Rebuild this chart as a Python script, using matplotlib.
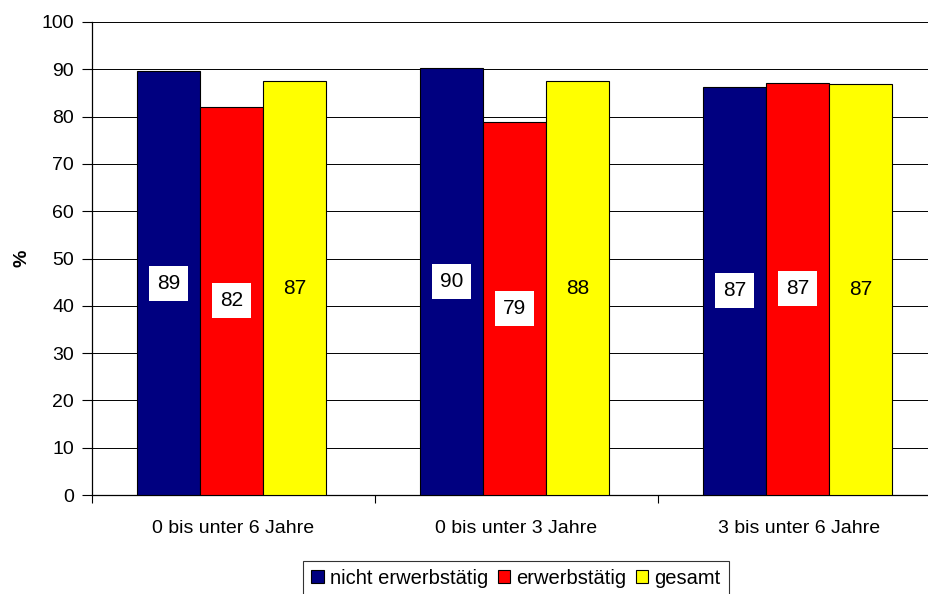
import numpy as np
import matplotlib.pyplot as plt

plt.rcParams['font.family'] = ['Liberation Sans', 'DejaVu Sans']

categories = ['0 bis unter 6 Jahre', '0 bis unter 3 Jahre', '3 bis unter 6 Jahre']
series = ['nicht erwerbstätig', 'erwerbstätig', 'gesamt']
nicht_erwerbstaetig = [89.6, 90.3, 86.3]
erwerbstaetig = [82.1, 78.9, 87.2]
gesamt = [87.5, 87.5, 86.8]
labels_nicht = ['89', '90', '87']
labels_erw = ['82', '79', '87']
labels_ges = ['87', '88', '87']

colors = ['#000080', '#ff0000', '#ffff00']
values = [nicht_erwerbstaetig, erwerbstaetig, gesamt]
labels = [labels_nicht, labels_erw, labels_ges]

fig = plt.figure(figsize=(9.29, 5.94), dpi=100)
ax = fig.add_axes([92 / 929, 1 - 495 / 594, 849 / 929, 473 / 594])

x = np.arange(len(categories))
w = 0.223
for i, (vals, labs) in enumerate(zip(values, labels)):
    pos = x + (i - 1) * w - 0.006
    ax.bar(pos, vals, width=w, color=colors[i], edgecolor='black',
           linewidth=0.8, label=series[i], zorder=3)
    for p, v, t in zip(pos, vals, labs):
        bbox = None
        if i < 2:
            bbox = dict(boxstyle='square,pad=0.38', facecolor='white',
                        edgecolor='none')
        ax.text(p, v / 2, t, ha='center', va='center', fontsize=15,
                color='black', bbox=bbox, zorder=4)

ax.set_xlim(-0.5, 2.5)
ax.set_ylim(0, 100)
ax.set_yticks(range(0, 101, 10))
ax.set_xticks([-0.5, 0.5, 1.5, 2.5])
ax.set_xticklabels([])
ax.set_xticks(x, minor=True)
ax.set_xticklabels(categories, minor=True)
ax.tick_params(axis='x', which='minor', length=0, pad=18, labelsize=14)
ax.tick_params(axis='x', which='major', length=6, width=0.8)
ax.tick_params(axis='y', length=7, width=0.8, labelsize=14, pad=6)
ax.grid(axis='y', color='black', linewidth=0.7, zorder=0)
ax.set_axisbelow(True)
for s in ['top', 'right']:
    ax.spines[s].set_visible(False)
for s in ['left', 'bottom']:
    ax.spines[s].set_linewidth(0.9)

ax.set_ylabel('%', fontsize=14, fontweight='bold', labelpad=8)

leg = fig.legend(loc='lower center', bbox_to_anchor=(516 / 929, -0.02),
                 ncol=3, fontsize=14.5, frameon=True, fancybox=False,
                 handlelength=0.6, handleheight=0.6, handletextpad=0.3,
                 columnspacing=0.5, borderpad=0.4)
leg.get_frame().set_edgecolor('black')
leg.get_frame().set_linewidth(0.8)

fig.savefig('out.png', dpi=100)
